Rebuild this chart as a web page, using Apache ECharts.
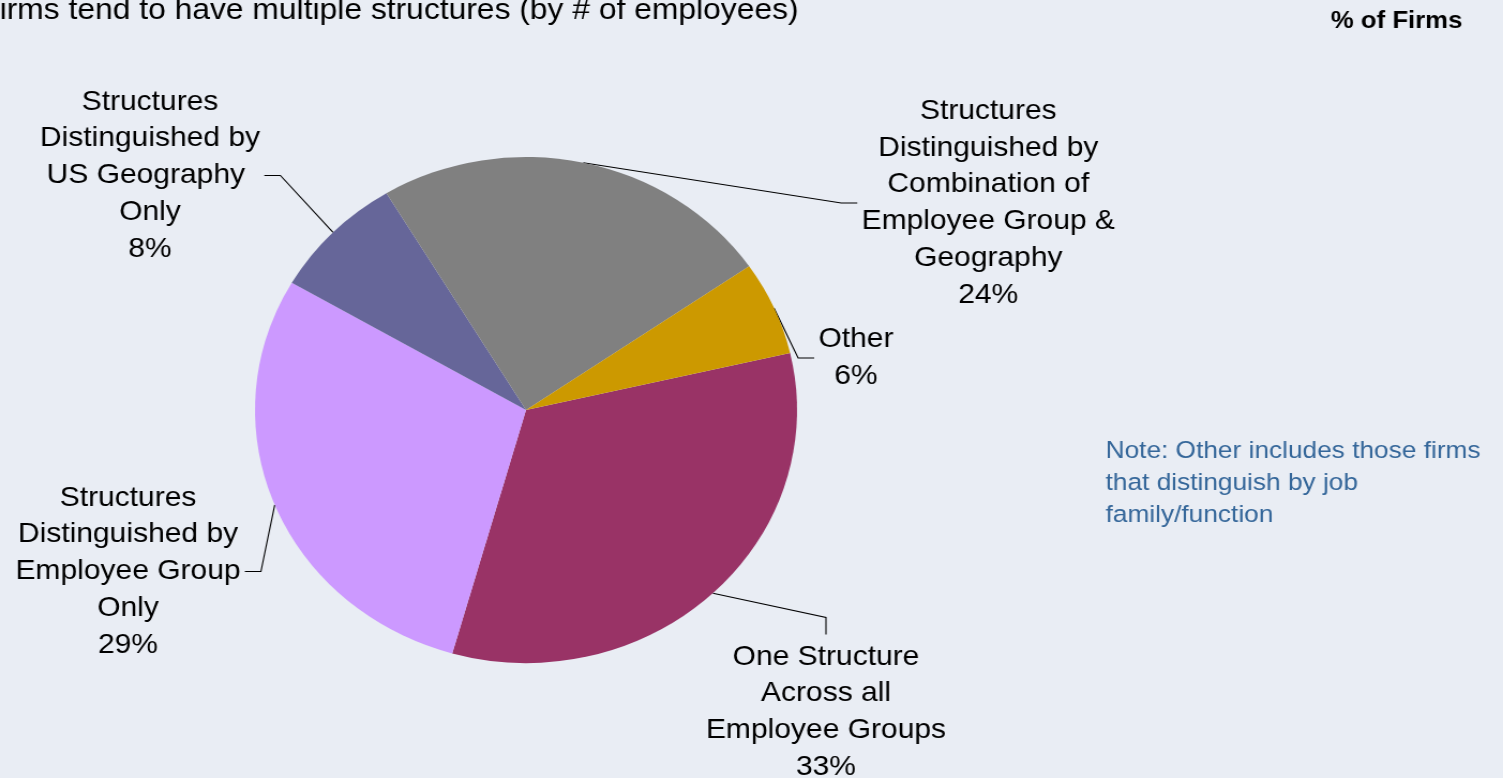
<!DOCTYPE html>
<html>
<head>
<meta charset="utf-8">
<script src="https://cdn.jsdelivr.net/npm/echarts@6/dist/echarts.min.js"></script>
<style>
  html, body { margin: 0; padding: 0; width: 1503px; height: 778px; overflow: hidden; background: #E9EDF4; }
  /* the chart is drawn slightly narrower and stretched to the full width */
  #chart { width: 1403px; height: 778px; transform: scaleX(1.0713); transform-origin: 0 0; }
</style>
</head>
<body>
<div id="chart"></div>
<script>
// Slices, clockwise from the right-hand side of the pie
const categories = [
  'One Structure\nAcross all\nEmployee Groups',
  'Structures\nDistinguished by\nEmployee Group\nOnly',
  'Structures\nDistinguished by\nUS Geography \nOnly',
  'Structures\nDistinguished by\nCombination of\nEmployee Group &\nGeography',
  'Other'
];
const shares = [33, 29, 8, 24, 6];
const sliceColors = ['#993366', '#CC99FF', '#666699', '#808080', '#CC9900'];

const titleText = 'Firms tend to have multiple structures (by # of employees)';
const unitText = '% of Firms';
const noteText = 'Note: Other includes those firms\nthat distinguish by job\nfamily/function';

// Label layout: centre of each label block and the edge its leader line joins
const labelCenters = [[771, 712], [119.5, 571.5], [140, 175.5], [922.5, 203], [799, 358]];
const labelSides = ['top', 'right', 'right', 'left', 'left'];
const GAP = 4;        // space between label edge and leader end
const ELBOW_H = 15;   // short horizontal segment
const ELBOW_V = 17;   // short vertical segment

const FONT = '"Liberation Sans", Arial, Helvetica, sans-serif';

const chart = echarts.init(document.getElementById('chart'), null, { renderer: 'canvas' });

chart.setOption({
  backgroundColor: '#E9EDF4',
  animation: false,
  title: [
    {
      text: titleText, left: -18.5, top: -4, padding: 0,
      textStyle: { fontFamily: FONT, fontSize: 29.7, fontWeight: 'normal', color: '#000', lineHeight: 30 }
    },
    {
      text: unitText, right: 38, top: 9, padding: 0,
      textStyle: { fontFamily: FONT, fontSize: 24, fontWeight: 'bold', color: '#000', lineHeight: 24 }
    },
    {
      text: noteText, left: 1032, top: 435, padding: 0,
      textStyle: { fontFamily: FONT, fontSize: 24.5, fontWeight: 'normal', color: '#35679A', lineHeight: 32 }
    }
  ],
  series: [{
    type: 'pie',
    center: [491, 410],
    radius: 253,
    startAngle: 13,
    clockwise: true,
    avoidLabelOverlap: false,
    silent: true,
    data: categories.map((name, i) => ({ name, value: shares[i], itemStyle: { color: sliceColors[i] } })),
    label: {
      show: true,
      position: 'outside',
      formatter: '{b}\n{c}%',
      color: '#000',
      fontFamily: FONT,
      fontSize: 28,
      lineHeight: 36.8,
      align: 'center'
    },
    labelLine: {
      show: true, length: 10, length2: 10, smooth: false,
      lineStyle: { color: '#000', width: 1.1 }
    },
    labelLayout: function (p) {
      const i = p.dataIndex;
      const cx = labelCenters[i][0], cy = labelCenters[i][1];
      const w = p.labelRect.width, h = p.labelRect.height;
      let end, turn;
      if (labelSides[i] === 'top') {
        end = [cx, cy - h / 2 - GAP];
        turn = [cx, end[1] - ELBOW_V];
      } else if (labelSides[i] === 'left') {
        end = [cx - w / 2 - GAP, cy];
        turn = [end[0] - ELBOW_H, cy];
      } else {
        end = [cx + w / 2 + GAP, cy];
        turn = [end[0] + ELBOW_H, cy];
      }
      const out = { x: cx, y: cy, align: 'center', verticalAlign: 'middle', hideOverlap: false };
      if (p.labelLinePoints && p.labelLinePoints[0]) {
        out.labelLinePoints = [p.labelLinePoints[0].slice(), turn, end];
      }
      return out;
    }
  }]
});
</script>
</body>
</html>
